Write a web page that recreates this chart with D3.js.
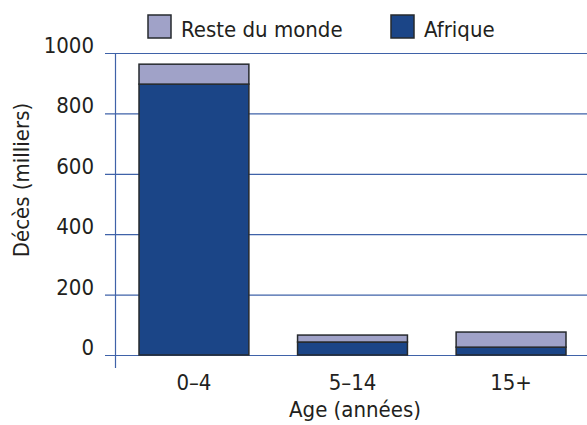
<!DOCTYPE html>
<html>
<head>
<meta charset="utf-8">
<script src="https://cdn.jsdelivr.net/npm/d3@7"></script>
<style>
  body { margin: 0; background: #fff; }
  text { font-family: "Liberation Sans Narrow", "DejaVu Sans Condensed", sans-serif; fill: #231f20; }
</style>
</head>
<body>
<div id="chart"></div>
<script>
const ageGroups = ["0–4", "5–14", "15+"];
const afrique = [897, 43, 26];
const resteDuMonde = [66, 23, 50];
const yTicks = [0, 200, 400, 600, 800, 1000];

const W = 587, H = 425;
const svg = d3.select("#chart").append("svg")
    .attr("width", W)
    .attr("height", H);

const x = d3.scaleBand()
    .domain(ageGroups)
    .range([139, 566])
    .paddingInner(0.307)
    .paddingOuter(0);

const y = d3.scaleLinear()
    .domain([0, 1000])
    .range([355, 53]);

const gridColor = "#3f62a8";

// gridlines
svg.append("g")
    .selectAll("line")
    .data(yTicks)
    .enter()
    .append("line")
    .attr("x1", 105)
    .attr("x2", W)
    .attr("y1", d => y(d) + 0.5)
    .attr("y2", d => y(d) + 0.5)
    .attr("stroke", gridColor)
    .attr("stroke-width", 1.2);

// y axis line
svg.append("line")
    .attr("x1", 115.5).attr("x2", 115.5)
    .attr("y1", y(1000)).attr("y2", 368)
    .attr("stroke", gridColor)
    .attr("stroke-width", 1.2);

// y tick labels
svg.append("g")
    .selectAll("text")
    .data(yTicks)
    .enter()
    .append("text")
    .attr("x", 94)
    .attr("y", d => y(d) - 0)
    .attr("text-anchor", "end")
    .attr("font-size", 22)
    .text(d => d);

// stacked bars
const stackData = ageGroups.map((g, i) => ({age: g, afrique: afrique[i], reste: resteDuMonde[i]}));
const series = d3.stack().keys(["afrique", "reste"])(stackData);
const colors = {afrique: "#1b4587", reste: "#a0a2c8"};

svg.append("g")
    .selectAll("g")
    .data(series)
    .enter()
    .append("g")
    .attr("fill", d => colors[d.key])
    .selectAll("rect")
    .data(d => d)
    .enter()
    .append("rect")
    .attr("x", d => x(d.data.age))
    .attr("y", d => y(d[1]))
    .attr("width", x.bandwidth())
    .attr("height", d => y(d[0]) - y(d[1]))
    .attr("stroke", "#262a2e")
    .attr("stroke-width", 1.5);

// x tick labels
svg.append("g")
    .selectAll("text")
    .data(ageGroups)
    .enter()
    .append("text")
    .attr("x", d => x(d) + x.bandwidth() / 2)
    .attr("y", 390)
    .attr("text-anchor", "middle")
    .attr("font-size", 22)
    .text(d => d);

// axis titles
svg.append("text")
    .attr("x", 355)
    .attr("y", 417)
    .attr("text-anchor", "middle")
    .attr("font-size", 22)
    .text("Age (années)");

svg.append("text")
    .attr("transform", "translate(29, 180) rotate(-90)")
    .attr("text-anchor", "middle")
    .attr("font-size", 22)
    .text("Décès (milliers)");

// legend
const legend = [
    {label: "Reste du monde", key: "reste", x: 148},
    {label: "Afrique", key: "afrique", x: 391}
];
const lg = svg.append("g")
    .selectAll("g")
    .data(legend)
    .enter()
    .append("g")
    .attr("transform", d => `translate(${d.x}, 15)`);
lg.append("rect")
    .attr("width", 23)
    .attr("height", 23)
    .attr("fill", d => colors[d.key])
    .attr("stroke", "#262a2e")
    .attr("stroke-width", 1.5);
lg.append("text")
    .attr("x", 33)
    .attr("y", 22)
    .attr("font-size", 22)
    .text(d => d.label);
</script>
</body>
</html>
